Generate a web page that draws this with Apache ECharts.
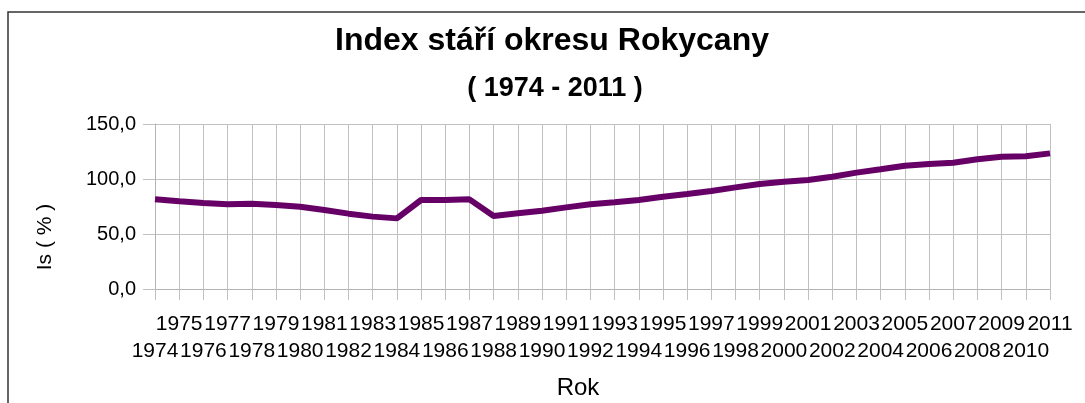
<!DOCTYPE html>
<html>
<head>
<meta charset="utf-8">
<script src="https://cdn.jsdelivr.net/npm/echarts@6/dist/echarts.min.js"></script>
<style>
  html, body { margin: 0; padding: 0; background: #fff; }
  #chart { width: 1085px; height: 403px; }
</style>
</head>
<body>
<div id="chart"></div>
<script>
// roky 1974 - 2011
var years = ['1974','1975','1976','1977','1978','1979','1980','1981','1982','1983',
             '1984','1985','1986','1987','1988','1989','1990','1991','1992','1993',
             '1994','1995','1996','1997','1998','1999','2000','2001','2002','2003',
             '2004','2005','2006','2007','2008','2009','2010','2011'];
// index stáří (%)
var indexStari = [81.5, 79.7, 78.2, 77.0, 77.6, 76.4, 74.8, 71.8, 68.5, 65.8,
                  64.2, 80.9, 80.9, 81.5, 66.4, 68.8, 71.2, 74.2, 77.0, 78.8,
                  80.9, 83.9, 86.4, 89.1, 92.4, 95.5, 97.6, 99.1, 102.1, 105.8,
                  108.8, 112.1, 113.6, 114.8, 117.9, 120.3, 120.6, 123.3];
var yTicks = [0, 50, 100, 150];

var font = 'Liberation Sans, Arial, sans-serif';
var gridColor = '#c0c0c0';

var chart = echarts.init(document.getElementById('chart'));
chart.setOption({
  backgroundColor: '#fff',
  animation: false,
  title: [
    {
      text: 'Index stáří okresu Rokycany',
      left: 547,
      top: 20,
      textAlign: 'center',
      textStyle: { fontFamily: font, fontSize: 32, fontWeight: 'bold', color: '#000' }
    },
    {
      text: '( 1974 - 2011 )',
      left: 550,
      top: 70,
      textAlign: 'center',
      textStyle: { fontFamily: font, fontSize: 27, fontWeight: 'bold', color: '#000' }
    }
  ],
  grid: {
    left: 155,
    right: 35,
    top: 124,
    bottom: 114,
    containLabel: false,
    outerBoundsMode: 'none'
  },
  xAxis: {
    type: 'category',
    data: years,
    boundaryGap: false,
    axisLine: { lineStyle: { color: '#b3b3b3', width: 1 } },
    axisTick: { show: true, length: 11, alignWithLabel: true, lineStyle: { color: gridColor } },
    splitLine: { show: true, lineStyle: { color: gridColor, width: 1 } },
    axisLabel: {
      interval: 0,
      margin: 22,
      fontFamily: font,
      fontSize: 21,
      lineHeight: 27,
      color: '#000',
      formatter: function (value, index) {
        return index % 2 ? value : '\n' + value;
      }
    }
  },
  yAxis: {
    type: 'value',
    min: yTicks[0],
    max: yTicks[yTicks.length - 1],
    interval: 50,
    axisLine: { show: true, lineStyle: { color: '#b3b3b3' } },
    axisTick: { show: true, length: 12, lineStyle: { color: gridColor } },
    splitLine: { lineStyle: { color: gridColor, width: 1 } },
    axisLabel: {
      margin: 19,
      fontFamily: font,
      fontSize: 20,
      color: '#000',
      formatter: function (v) {
        return v.toFixed(1).replace('.', ',');
      }
    }
  },
  graphic: [
    {
      type: 'rect',
      shape: { x: 8, y: 12, width: 1200, height: 600 },
      style: { fill: 'none', stroke: '#333', lineWidth: 1.5 },
      silent: true
    },
    {
      type: 'text',
      x: 45,
      y: 237,
      rotation: Math.PI / 2,
      style: {
        text: 'Is ( % )',
        fontFamily: font,
        fontSize: 21,
        fill: '#000',
        textAlign: 'center',
        textVerticalAlign: 'middle'
      }
    },
    {
      type: 'text',
      x: 578,
      y: 388,
      style: {
        text: 'Rok',
        fontFamily: font,
        fontSize: 24,
        fill: '#000',
        textAlign: 'center',
        textVerticalAlign: 'middle'
      }
    }
  ],
  series: [
    {
      name: 'Index stáří',
      type: 'line',
      data: indexStari,
      symbol: 'none',
      lineStyle: { color: '#660066', width: 6 },
      itemStyle: { color: '#660066' }
    }
  ]
});
</script>
</body>
</html>
